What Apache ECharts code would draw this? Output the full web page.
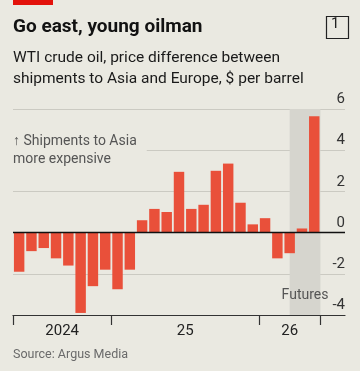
<!DOCTYPE html>
<html>
<head>
<meta charset="utf-8">
<script src="https://cdn.jsdelivr.net/npm/echarts@6/dist/echarts.min.js"></script>
<style>
  html, body { margin: 0; padding: 0; background: #eae9e1; }
  #chart { width: 360px; height: 371px; }
</style>
</head>
<body>
<div id="chart"></div>
<script>
// months, May 2024 to May 2026
var months = [
  '2024-05', '2024-06', '2024-07', '2024-08', '2024-09', '2024-10', '2024-11', '2024-12',
  '2025-01', '2025-02', '2025-03', '2025-04', '2025-05', '2025-06', '2025-07', '2025-08',
  '2025-09', '2025-10', '2025-11', '2025-12',
  '2026-01', '2026-02', '2026-03', '2026-04', '2026-05'
]
// Asia minus Europe, $ per barrel
var priceDiff = [
  -1.9, -0.9, -0.75, -1.25, -1.6, -3.9, -2.6, -1.8,
  -2.75, -1.8, 0.6, 1.15, 1.0, 2.95, 1.15, 1.35,
  3.0, 3.35, 1.45, 0.4,
  0.7, -1.25, -1.0, 0.2, 5.65
]
var futuresFrom = '2026-04'
var futuresTo = '2026-05'
var yearLabels = ['2024', '25', '26']

var FONT = 'Roboto, "Noto Sans", sans-serif'

// year boundaries -> tick spots on the date axis
var yearTicks = [0]
months.forEach(function (m, i) {
  if (i > 0 && m.slice(5) === '01') yearTicks.push(i)
})
yearTicks.push(months.length)
var labelSpots = []
for (var i = 0; i < yearTicks.length - 1; i++) {
  labelSpots.push((yearTicks[i] + yearTicks[i + 1]) / 2)
}

var chart = echarts.init(document.getElementById('chart'))
chart.setOption({
  backgroundColor: '#eae9e1',
  animation: false,
  textStyle: { fontFamily: FONT },
  grid: { left: 13, right: 15, top: 109, bottom: 56, containLabel: false },
  xAxis: [
    {
      type: 'category',
      data: months,
      max: months.length + 1,
      axisLine: { show: false },
      axisTick: { show: false },
      axisLabel: { show: false }
    },
    {
      type: 'value',
      min: 0,
      max: months.length + 2,
      position: 'bottom',
      splitLine: { show: false },
      axisLine: { onZero: false, lineStyle: { color: '#333', width: 1.2 } },
      axisTick: { customValues: yearTicks, length: 10, lineStyle: { color: '#333', width: 1.2 } },
      axisLabel: {
        customValues: labelSpots,
        margin: 9,
        fontSize: 15,
        color: '#222',
        formatter: function (v) {
          var k = labelSpots.indexOf(v)
          return k >= 0 ? yearLabels[k] : ''
        }
      }
    }
  ],
  yAxis: {
    type: 'value',
    position: 'right',
    min: -4,
    max: 6,
    interval: 2,
    axisLine: { show: false },
    axisTick: { show: false },
    splitLine: { lineStyle: { color: '#cbcac2', width: 1 } },
    axisLabel: {
      inside: true,
      margin: 0,
      fontSize: 15,
      color: '#333',
      verticalAlign: 'bottom',
      padding: [0, 0, 2, 0]
    }
  },
  series: [
    {
      type: 'bar',
      xAxisIndex: 0,
      data: priceDiff,
      barCategoryGap: '15%',
      itemStyle: { color: '#e9503a' },
      markArea: {
        silent: true,
        itemStyle: { color: '#d6d5ce' },
        label: {
          position: 'insideBottom',
          distance: 13,
          color: '#555',
          fontSize: 14,
          fontFamily: FONT
        },
        data: [[
          { name: 'Futures', xAxis: futuresFrom, yAxis: 6 },
          { xAxis: futuresTo, yAxis: -4 }
        ]]
      },
      markLine: {
        silent: true,
        symbol: 'none',
        label: { show: false },
        lineStyle: { color: '#111', width: 1.3, type: 'solid' },
        data: [{ yAxis: 0 }]
      },
      z: 3
    }
  ],
  graphic: [
    { type: 'rect', left: 13, top: 0, shape: { width: 40, height: 5 }, style: { fill: '#e3120b' } },
    {
      type: 'text', left: 13, top: 18,
      style: { text: 'Go east, young oilman', font: 'bold 19px ' + FONT, fill: '#121212' }
    },
    {
      type: 'rect', left: 324, top: 14, shape: { width: 22, height: 22 },
      style: { fill: 'none', stroke: '#222', lineWidth: 1.2 }
    },
    {
      type: 'text', left: 331, top: 17,
      style: { text: '1', font: '15px ' + FONT, fill: '#222' }
    },
    {
      type: 'text', left: 13, top: 48,
      style: {
        text: 'WTI crude oil, price difference between\nshipments to Asia and Europe, $ per barrel',
        font: '15.5px ' + FONT, fill: '#1a1a1a', lineHeight: 21
      }
    },
    {
      type: 'text', left: 13, top: 132, z: 10,
      style: {
        text: '↑ Shipments to Asia\nmore expensive',
        font: '14px ' + FONT, fill: '#555', lineHeight: 18,
        backgroundColor: '#eae9e1', padding: [0, 10, 0, 0]
      }
    },
    {
      type: 'text', left: 13, top: 348,
      style: { text: 'Source: Argus Media', font: '12.5px ' + FONT, fill: '#6a6a6a' }
    }
  ]
})
</script>
</body>
</html>
